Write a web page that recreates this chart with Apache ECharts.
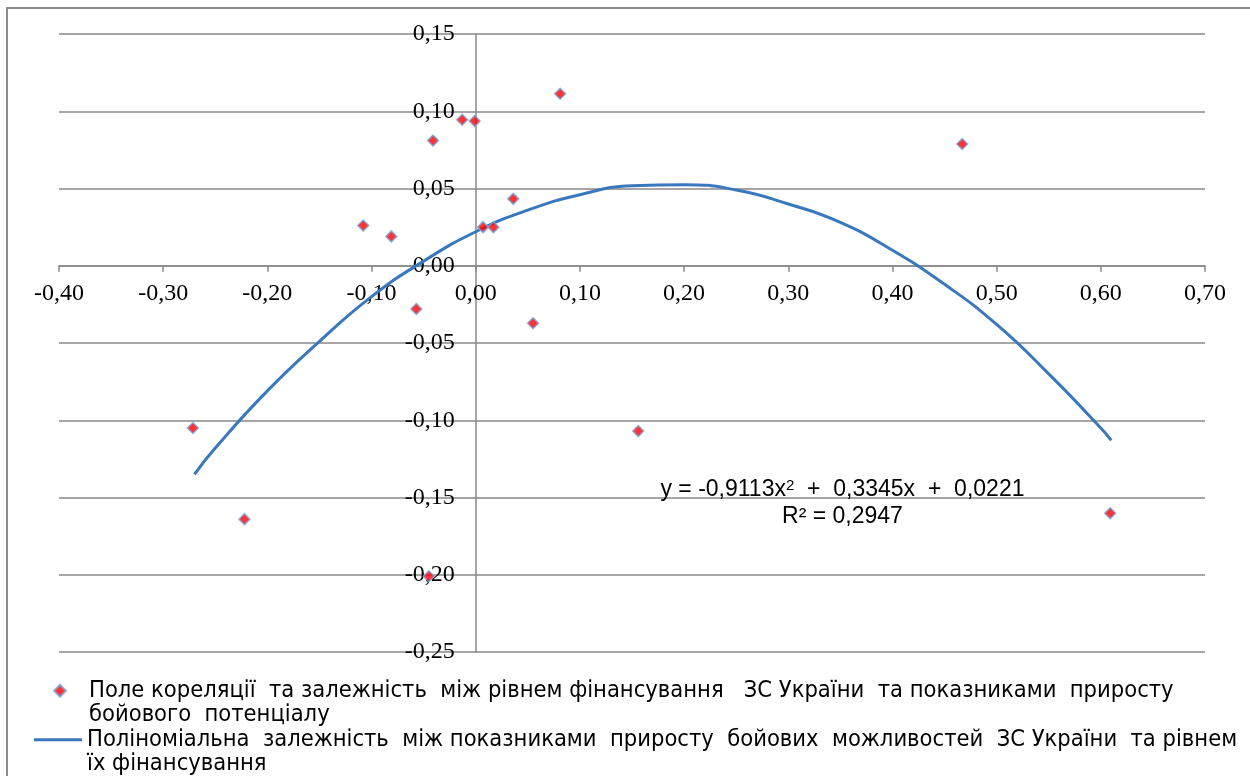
<!DOCTYPE html>
<html>
<head>
<meta charset="utf-8">
<script src="https://cdn.jsdelivr.net/npm/echarts@6/dist/echarts.min.js"></script>
<style>
html,body{margin:0;padding:0;background:#fff;}
#chart{width:1250px;height:776px;}
</style>
</head>
<body>
<div id="chart"></div>
<script>
// ---- data ----
var scatterName = 'Поле кореляції  та залежність  між рівнем фінансування  ЗС України  та показниками  приросту бойового  потенціалу';
var scatterLines = ['Поле кореляції  та залежність  між рівнем фінансування   ЗС України  та показниками  приросту', 'бойового  потенціалу'];
var trendName = 'Поліноміальна  залежність  між показниками  приросту  бойових  можливостей  ЗС України  та рівнем їх фінансування';
var trendLines = ['Поліноміальна  залежність  між показниками  приросту  бойових  можливостей  ЗС України  та рівнем', 'їх фінансування'];
var scatterX = [-0.2715, -0.222, -0.108, -0.081, -0.057, -0.045, -0.041, -0.013, -0.001, 0.007, 0.017, 0.036, 0.055, 0.081, 0.156, 0.467, 0.609];
var scatterY = [-0.105, -0.164, 0.026, 0.019, -0.028, -0.201, 0.081, 0.0945, 0.0937, 0.025, 0.025, 0.0433, -0.0372, 0.1113, -0.107, 0.0788, -0.1602];
var trendX = [-0.27, -0.25, -0.20, -0.15, -0.10, -0.05, 0.00, 0.05, 0.10, 0.15, 0.20, 0.25, 0.30, 0.35, 0.40, 0.45, 0.50, 0.55, 0.60, 0.61];
var trendY = [-0.135, -0.118, -0.081, -0.049, -0.020, 0.003, 0.022, 0.036, 0.046, 0.0518, 0.0525, 0.049, 0.040, 0.028, 0.010, -0.012, -0.038, -0.070, -0.105, -0.113];
var xTicks = {min: -0.4, max: 0.7, step: 0.1};
var yTicks = {min: -0.25, max: 0.15, step: 0.05};
var equationParts = ['y = -0,9113x', '2', '  +  0,3345x  +  0,0221'];
var r2Text = 'R² = 0,2947';

function fmt(v) {
  if (Math.abs(v) < 1e-9) v = 0;
  return v.toFixed(2).replace('.', ',');
}

var chart = echarts.init(document.getElementById('chart'), null, {renderer: 'canvas'});
var scatterData = scatterX.map(function (x, i) { return [x, scatterY[i]]; });
var trendData = trendX.map(function (x, i) { return [x, trendY[i]]; });

var gridColor = '#898989';
var serif = '"Liberation Serif", "Times New Roman", serif';
var narrow = '"Liberation Sans Narrow", "Arial Narrow", "DejaVu Sans Condensed", sans-serif';
var sans = '"Liberation Sans", Arial, sans-serif';
var diamondPath = 'path://M5,0L10,5L5,10L0,5Z';

chart.setOption({
  backgroundColor: '#ffffff',
  animation: false,
  grid: {left: 59, right: 45, top: 34, bottom: 124, containLabel: false, outerBoundsMode: 'none'},
  xAxis: {
    type: 'value', min: xTicks.min, max: xTicks.max, interval: xTicks.step,
    axisLine: {onZero: true, lineStyle: {color: gridColor, width: 1.5}},
    axisTick: {show: true, length: 6, lineStyle: {color: gridColor, width: 1.5}},
    splitLine: {show: false},
    axisLabel: {formatter: fmt, fontFamily: serif, fontSize: 24, color: '#000', margin: 16, hideOverlap: false}
  },
  yAxis: {
    type: 'value', min: yTicks.min, max: yTicks.max, interval: yTicks.step,
    axisLine: {onZero: true, lineStyle: {color: gridColor, width: 1.5}},
    axisTick: {show: false},
    splitLine: {show: true, lineStyle: {color: gridColor, width: 1.5}},
    axisLabel: {formatter: fmt, fontFamily: serif, fontSize: 24, color: '#000', margin: 21, hideOverlap: false}
  },
  legend: [{
    data: [{name: scatterName, icon: diamondPath}], orient: 'vertical', left: 53, top: 654, padding: 0,
    itemWidth: 48, itemHeight: 12, symbolKeepAspect: true,
    formatter: function () { return '\n' + scatterLines.join('\n'); },
    textStyle: {fontFamily: narrow, fontSize: 23.5, color: '#000', lineHeight: 24.5}
  }, {
    data: [{name: trendName, icon: 'rect'}], orient: 'vertical', left: 34, top: 703, padding: 0,
    itemWidth: 48, itemHeight: 3, symbolKeepAspect: false,
    formatter: function () { return '\n' + trendLines.join('\n'); },
    textStyle: {fontFamily: narrow, fontSize: 23.5, color: '#000', lineHeight: 24.5}
  }],
  series: [{
    name: trendName, type: 'line', data: trendData, smooth: true,
    showSymbol: false, symbol: 'none',
    lineStyle: {color: '#3a78be', width: 3},
    itemStyle: {color: '#3a78be'},
    z: 2
  }, {
    name: scatterName, type: 'scatter', data: scatterData,
    symbol: 'diamond', symbolSize: 11,
    itemStyle: {color: '#ff0000', borderColor: '#74a9dc', borderWidth: 1.5},
    z: 3
  }]
});

// move the tick labels next to the axes that cross at zero
var origin = chart.convertToPixel({gridIndex: 0}, [0, 0]);
var corner = chart.convertToPixel({gridIndex: 0}, [xTicks.min, yTicks.min]);
var eqPos = chart.convertToPixel({gridIndex: 0}, [0.352, -0.1451]);
var r2Pos = chart.convertToPixel({gridIndex: 0}, [0.352, -0.1626]);
chart.setOption({
  xAxis: {axisLabel: {margin: -(corner[1] - origin[1] - 16)}},
  yAxis: {axisLabel: {margin: -(origin[0] - corner[0] - 21)}},
  graphic: [{
    type: 'rect', silent: true, z: -1,
    shape: {x: 7, y: 8, width: 1300, height: 900},
    style: {fill: 'none', stroke: '#8c8c8c', lineWidth: 2}
  }, {
    type: 'text', x: eqPos[0], y: eqPos[1], z: 10,
    style: {
      text: equationParts[0] + '{sup|' + equationParts[1] + '}' + equationParts[2],
      font: '23px ' + sans, fill: '#000',
      align: 'center', verticalAlign: 'middle',
      rich: {sup: {fontSize: 15, fontFamily: sans, verticalAlign: 'top', fill: '#000', lineHeight: 23}}
    }
  }, {
    type: 'text', x: r2Pos[0], y: r2Pos[1], z: 10,
    style: {
      text: r2Text, font: '23px ' + sans, fill: '#000',
      align: 'center', verticalAlign: 'middle'
    }
  }]
});
</script>
</body>
</html>
